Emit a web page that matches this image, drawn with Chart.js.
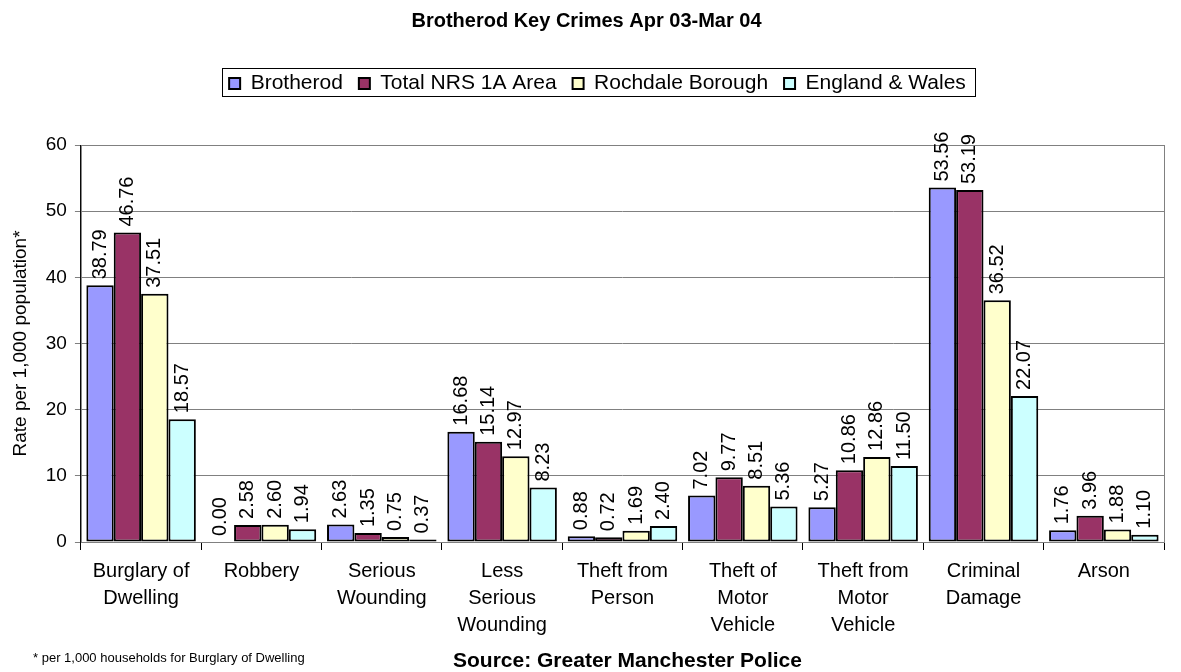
<!DOCTYPE html>
<html>
<head>
<meta charset="utf-8">
<script src="https://cdn.jsdelivr.net/npm/chart.js@4"></script>
<style>
  body { margin: 0; background: #fff; }
  #wrap { width: 1181px; height: 672px; }
</style>
</head>
<body>
<div id="wrap"><canvas id="myChart" width="1181" height="672"></canvas></div>
<script>
const categories = [
  ["Burglary of", "Dwelling"], "Robbery", ["Serious", "Wounding"],
  ["Less", "Serious", "Wounding"], ["Theft from", "Person"],
  ["Theft of", "Motor", "Vehicle"], ["Theft from", "Motor", "Vehicle"],
  ["Criminal", "Damage"], "Arson"
];
const brotherod = [38.79, 0.00, 2.63, 16.68, 0.88, 7.02, 5.27, 53.56, 1.76];
const totalNrs = [46.76, 2.58, 1.35, 15.14, 0.72, 9.77, 10.86, 53.19, 3.96];
const rochdale = [37.51, 2.60, 0.75, 12.97, 1.69, 8.51, 12.86, 36.52, 1.88];
const englandWales = [18.57, 1.94, 0.37, 8.23, 2.40, 5.36, 11.50, 22.07, 1.10];
const seriesNames = ["Brotherod", "Total NRS 1A Area", "Rochdale Borough", "England & Wales"];
const seriesColors = ["#9999ff", "#993366", "#ffffcc", "#ccffff"];

const FONT = "'Liberation Sans', Arial, sans-serif";
const ctx = document.getElementById("myChart");

const valueLabels = {
  id: "valueLabels",
  afterDatasetsDraw(chart) {
    const c = chart.ctx;
    c.save();
    c.font = "20px " + FONT;
    c.fillStyle = "#000";
    c.textAlign = "left";
    c.textBaseline = "middle";
    chart.data.datasets.forEach((ds, i) => {
      chart.getDatasetMeta(i).data.forEach((bar, j) => {
        c.save();
        c.translate(bar.x, bar.y - 6);
        c.rotate(-Math.PI / 2);
        c.fillText(ds.data[j].toFixed(2), 0, 0);
        c.restore();
      });
    });
    c.restore();
  }
};

// push the plot down below the legend, nudge legend right into its box
const legendGap = {
  id: "legendGap",
  beforeInit(chart) {
    const lg = chart.legend;
    const fit = lg.fit;
    lg.fit = function () {
      fit.bind(lg)();
      this.height += 41;
    };
    const draw = lg.draw;
    lg.draw = function () {
      chart.ctx.save();
      chart.ctx.translate(11, 0);
      draw.apply(lg, arguments);
      chart.ctx.restore();
    };
  }
};

const frame = {
  id: "frame",
  beforeDatasetsDraw(chart) {
    const a = chart.chartArea, c = chart.ctx;
    c.save();
    c.strokeStyle = "#808080";
    c.lineWidth = 1;
    c.strokeRect(a.left + 0.5, a.top + 0.5, a.right - a.left, a.bottom - a.top);
    c.restore();
  },
  afterDraw(chart) {
    const c = chart.ctx;
    c.save();
    c.strokeStyle = "#000";
    c.lineWidth = 1;
    c.strokeRect(222.5, 68.5, 753, 28);
    c.fillStyle = "#000";
    c.font = "13px " + FONT;
    c.textBaseline = "middle";
    c.textAlign = "left";
    c.fillText("* per 1,000 households for Burglary of Dwelling", 33, 658);
    c.font = "bold 21px " + FONT;
    c.fillText("Source: Greater Manchester Police", 453, 661);
    c.restore();
  }
};

new Chart(ctx, {
  type: "bar",
  data: {
    labels: categories,
    datasets: [brotherod, totalNrs, rochdale, englandWales].map((d, i) => ({
      label: seriesNames[i],
      data: d,
      backgroundColor: seriesColors[i],
      borderColor: "#000",
      borderWidth: 2,
      borderSkipped: false,
      categoryPercentage: 0.91,
      barPercentage: 1
    }))
  },
  options: {
    responsive: false,
    animation: false,
    layout: { padding: { left: 9, right: 17, top: 5, bottom: 25 } },
    plugins: {
      title: {
        display: true,
        text: "Brotherod Key Crimes Apr 03-Mar 04",
        color: "#000",
        font: { family: FONT, size: 20, weight: "bold" },
        padding: { top: 4, bottom: 24 }
      },
      legend: {
        position: "top",
        labels: {
          color: "#000",
          font: { family: FONT, size: 21 },
          boxWidth: 11,
          boxHeight: 11,
          padding: 16,
          generateLabels(chart) {
            return chart.data.datasets.map((ds, i) => ({
              text: ds.label,
              fillStyle: ds.backgroundColor,
              strokeStyle: "#000",
              lineWidth: 2,
              datasetIndex: i
            }));
          }
        }
      },
      tooltip: { enabled: false }
    },
    scales: {
      x: {
        grid: { drawOnChartArea: false, drawTicks: true, tickLength: 8, color: "#000" },
        border: { color: "#000", width: 1 },
        ticks: {
          color: "#000",
          font: { family: FONT, size: 20, lineHeight: 1.35 },
          maxRotation: 0, autoSkip: false, padding: 8
        }
      },
      y: {
        min: 0,
        max: 60,
        ticks: { stepSize: 10, color: "#000", font: { family: FONT, size: 19 }, padding: 8 },
        grid: { color: "#808080", tickLength: 6 },
        border: { color: "#000", width: 1 },
        title: {
          display: true,
          text: "Rate per 1,000 population*",
          color: "#000",
          font: { family: FONT, size: 19 },
          padding: { top: 0, bottom: 6 }
        }
      }
    }
  },
  plugins: [valueLabels, frame, legendGap]
});
</script>
</body>
</html>
